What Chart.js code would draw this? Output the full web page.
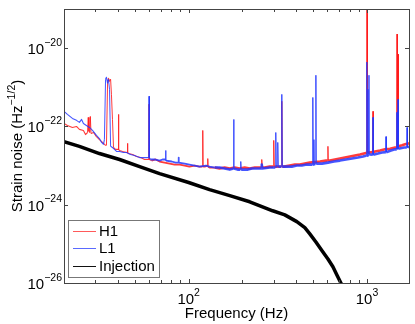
<!DOCTYPE html>
<html>
<head>
<meta charset="utf-8">
<script src="https://cdn.jsdelivr.net/npm/chart.js@4"></script>
<style>
  html, body { margin: 0; padding: 0; background: #fff; }
</style>
</head>
<body>
<canvas id="psd" width="415" height="324"></canvas>
<script>
// Strain noise spectra: [frequency (Hz), strain (1/sqrt(Hz))]
const h1 = [[20,1.19e-22],[20.9,1.06e-22],[22.3,9.4e-23],[23.5,1.0e-22],[24.4,8.4e-23],[25.7,7.9e-23],[26.4,6.2e-23],
  [27.1,7.0e-23],[27.35,1.70e-22],[27.6,7.5e-23],[27.9,7.0e-23],[28.1,1.80e-22],[28.35,6.6e-23],[29.3,7.0e-23],
  [30.4,5.5e-23],[31.6,4.6e-23],[32.9,3.9e-23],[34.2,3.3e-23],[34.6,3.3e-23],[35.1,1.27e-21],[35.5,1.70e-21],
  [36.0,1.43e-21],[36.5,1.60e-21],[36.9,6.6e-22],[37.4,1.51e-22],[37.9,2.9e-23],[38.9,2.6e-23],[40.2,2.6e-23],
  [40.4,2.03e-22],[40.6,2.5e-23],[41.0,2.43e-23],[42.6,2.29e-23],[45.2,2.16e-23],[45.4,3.7e-23],[45.6,2.1e-23],
  [46.0,2.03e-23],[48.5,1.91e-23],[51.0,1.70e-23],[53.8,1.60e-23],[56.6,1.43e-23],[59.8,1.43e-23],[60.0,3.7e-22],
  [60.2,1.43e-23],[62.0,1.34e-23],[65.3,1.43e-23],[68.7,1.27e-23],[73.3,1.19e-23],[78.2,1.12e-23],[83.4,1.06e-23],
  [89.0,1.06e-23],[95.0,1.0e-23],[101,9.4e-24],[108,1.0e-23],[115,9.4e-24],[119.5,9.4e-24],[120,7.9e-23],
  [120.5,9.4e-24],[123,9.4e-24],[127.5,1.0e-23],[128,1.51e-23],[128.5,9.4e-24],[131,8.9e-24],[140,8.9e-24],
  [149,8.4e-24],[159,8.9e-24],[170,8.4e-24],[181,8.9e-24],[193,8.4e-24],[206,8.9e-24],[220,8.4e-24],[235,8.9e-24],
  [255,8.9e-24],[257,1.43e-23],[259,8.9e-24],[267,8.9e-24],[285,9.4e-24],[298,9.4e-24],[300,4.4e-23],[302,9.4e-24],
  [331,9.4e-24],[333,4.4e-22],[335,9.4e-24],[342,9.4e-24],[369,1.0e-23],[394,1.06e-23],[420,1.06e-23],[448,1.12e-23],
  [478,1.19e-23],[545,1.27e-23],[588,1.34e-23],[602,1.34e-23],[604,3.1e-23],[606,1.34e-23],[620,1.34e-23],
  [661,1.43e-23],[705,1.51e-23],[752,1.60e-23],[803,1.70e-23],[856,1.80e-23],[913,1.91e-23],[987,2.1e-23],
  [996,2.16e-23],[998,1.5e-19],[1003,1.5e-19],[1005,2.16e-23],[1026,2.16e-23],[1078,2.2e-23],[1081,2.43e-22],
  [1084,2.2e-23],[1109,2.29e-23],[1183,2.43e-23],[1262,2.6e-23],[1346,2.7e-23],[1437,2.9e-23],[1468,2.9e-23],
  [1474,2.29e-20],[1480,3.0e-23],[1488,3.0e-23],[1494,7.0e-21],[1500,3.1e-23],[1573,3.3e-23],[1635,3.5e-23],
  [1722,3.7e-23]];

const l1 = [[20,2.43e-22],[20.9,2.03e-22],[22.3,1.60e-22],[23.5,1.43e-22],[24.4,1.27e-22],[25.1,1.51e-22],[25.7,1.19e-22],
  [26.7,1.06e-22],[27.8,9.4e-23],[28.9,7.9e-23],[30.4,5.9e-23],[31.6,4.9e-23],[32.5,3.9e-23],[33.3,3.5e-23],
  [33.7,4.6e-23],[34.2,1.60e-21],[34.6,1.80e-21],[35.1,1.27e-21],[35.5,1.60e-21],[36.0,8.9e-22],[36.5,3.1e-23],
  [37.4,2.9e-23],[38.4,2.6e-23],[39.4,2.29e-23],[41.0,2.29e-23],[43.1,2.16e-23],[44.8,2.16e-23],[47.2,1.91e-23],
  [49.7,1.80e-23],[53.1,1.60e-23],[55.9,1.60e-23],[59.8,1.60e-23],[60.0,5.9e-22],[60.2,1.60e-23],[61.2,1.43e-23],
  [64.4,1.43e-23],[68.7,1.34e-23],[71.4,1.43e-23],[74.0,1.43e-23],[74.3,2.43e-23],[74.6,1.34e-23],[80.3,1.27e-23],
  [84.5,1.19e-23],[87.5,1.19e-23],[87.8,1.60e-23],[88.1,1.19e-23],[95.0,1.12e-23],[101,1.06e-23],[108,1.0e-23],
  [115,9.4e-24],[125,1.0e-23],[131,9.4e-24],[140,8.9e-24],[149,8.9e-24],[159,8.4e-24],[170,7.9e-24],[178.5,8.4e-24],
  [179,1.51e-22],[179.5,8.4e-24],[188,7.9e-24],[195,7.9e-24],[196,1.27e-23],[197,7.9e-24],[215,7.9e-24],
  [226,8.4e-24],[241,8.4e-24],[255,8.4e-24],[257,1.06e-23],[259,8.4e-24],[285,8.9e-24],[306,8.9e-24],[308,7.0e-23],
  [310,9.4e-24],[314,9.4e-24],[316,3.9e-23],[318,9.4e-24],[331,9.4e-24],[333,6.6e-22],[335,9.4e-24],[355,9.4e-24],
  [379,9.4e-24],[404,1.0e-23],[431,1.0e-23],[460,1.06e-23],[495,1.06e-23],[497,5.5e-22],[499,1.06e-23],[502,1.1e-23],
  [504,4.6e-23],[506,1.1e-23],[515,1.1e-23],[517,2.03e-21],[519,1.12e-23],[559,1.12e-23],[604,1.19e-23],
  [653,1.27e-23],[705,1.34e-23],[762,1.43e-23],[824,1.51e-23],[890,1.60e-23],[950,1.70e-23],[995,1.80e-23],
  [998,4.4e-21],[1001,1.8e-23],[1010,1.9e-23],[1013,8.9e-22],[1016,1.9e-23],[1023,1.9e-23],[1026,2.03e-21],
  [1029,1.91e-23],[1078,1.9e-23],[1081,1.7e-22],[1084,1.9e-23],[1153,2.03e-23],[1214,2.16e-23],[1276,2.2e-23],
  [1279,5.5e-23],[1282,2.2e-23],[1364,2.43e-23],[1437,2.6e-23],[1468,2.6e-23],[1474,2.29e-22],[1478,2.6e-23],
  [1490,2.6e-23],[1494,4.9e-22],[1498,2.7e-23],[1614,2.9e-23],[1672,2.9e-23],[1678,9.4e-23],[1684,2.9e-23],
  [1722,3.1e-23]];

const injection = [[20,4.1e-23],[24.4,3.1e-23],[31.6,2.03e-23],[41.0,1.43e-23],[53.1,9.4e-24],[68.7,6.2e-24],[100,3.7e-24],
  [131,2.43e-24],[170,1.70e-24],[220,1.19e-24],[251,9.4e-25],[296,7.0e-25],[346,5.5e-25],[404,3.7e-25],[448,2.6e-25],
  [478,1.80e-25],[517,1.12e-25],[566,6.2e-26],[604,4.1e-26],[644,2.6e-26],[678,1.60e-26],[714,1.0e-26],[733,7.4e-27]];

const seriesNames = ["H1", "L1", "Injection"];
const seriesColors = ["rgba(255,25,25,0.85)", "rgba(35,55,255,0.85)", "#000"];

const xMajor = [100, 1000];
const xMinor = [20, 30, 40, 50, 60, 70, 80, 90, 200, 300, 400, 500, 600, 700, 800, 900];
const yTicks = [1e-26, 1e-24, 1e-22, 1e-20];

const FONT = "'Liberation Sans', Arial, sans-serif";

function toPoints(pairs) {
  return pairs.map(p => ({ x: p[0], y: p[1] }));
}

// thin strokes for narrow lines, thicker for the noisy floor at high frequency
function segWidth(c) {
  const dy = Math.abs(c.p1.y - c.p0.y);
  const dx = Math.abs(c.p1.x - c.p0.x);
  if (dy > 6 && dy > dx * 2) return 1;
  if (c.p0.x < 150) return 1.1;
  if (c.p0.x < 210) return 1.8;
  return 2.6;
}

function drawPow(ctx, exp, x, y, align) {
  ctx.font = "15px " + FONT;
  const w1 = ctx.measureText("10").width;
  ctx.font = "10.5px " + FONT;
  const w2 = ctx.measureText(exp).width;
  const left = align === "right" ? x - w1 - w2 : x - (w1 + w2) / 2;
  ctx.textAlign = "left";
  ctx.textBaseline = "alphabetic";
  ctx.font = "15px " + FONT;
  ctx.fillText("10", left, y);
  ctx.font = "10.5px " + FONT;
  ctx.fillText(exp, left + w1, y - 8.5);
}

const frame = {
  id: "frame",
  afterDraw(chart) {
    const { ctx, chartArea: a, scales: { x, y } } = chart;
    ctx.save();
    ctx.strokeStyle = "#444";
    ctx.lineWidth = 1;
    ctx.strokeRect(a.left + 0.5, a.top + 0.5, a.right - a.left, a.bottom - a.top);

    // inward ticks on all four sides
    ctx.beginPath();
    xMajor.concat(xMinor).forEach(t => {
      const len = xMajor.includes(t) ? 4 : 3;
      const px = Math.round(x.getPixelForValue(t)) + 0.5;
      ctx.moveTo(px, a.bottom); ctx.lineTo(px, a.bottom - len);
      ctx.moveTo(px, a.top); ctx.lineTo(px, a.top + len);
    });
    yTicks.forEach(t => {
      const py = Math.round(y.getPixelForValue(t)) + 0.5;
      ctx.moveTo(a.left, py); ctx.lineTo(a.left + 4, py);
      ctx.moveTo(a.right, py); ctx.lineTo(a.right - 4, py);
    });
    ctx.stroke();

    ctx.fillStyle = "#000";
    xMajor.forEach(t => {
      drawPow(ctx, String(Math.round(Math.log10(t))), x.getPixelForValue(t), a.bottom + 21);
    });
    yTicks.forEach(t => {
      drawPow(ctx, "\u2212" + Math.round(-Math.log10(t)), a.left - 2, y.getPixelForValue(t) + 6, "right");
    });

    // x title
    ctx.font = "15px " + FONT;
    ctx.textAlign = "center";
    ctx.fillText("Frequency (Hz)", (a.left + a.right) / 2, a.bottom + 35);

    // y title with superscript
    ctx.save();
    ctx.translate(22, (a.top + a.bottom) / 2);
    ctx.rotate(-Math.PI / 2);
    ctx.textAlign = "left";
    ctx.font = "15px " + FONT;
    const p1 = "Strain noise (Hz", p3 = ")";
    const w1 = ctx.measureText(p1).width, w3 = ctx.measureText(p3).width;
    ctx.font = "10.5px " + FONT;
    const sup = "\u22121/2";
    const w2 = ctx.measureText(sup).width;
    const sx = -(w1 + w2 + w3) / 2;
    ctx.font = "15px " + FONT;
    ctx.fillText(p1, sx, 0);
    ctx.font = "10.5px " + FONT;
    ctx.fillText(sup, sx + w1, -7);
    ctx.font = "15px " + FONT;
    ctx.fillText(p3, sx + w1 + w2, 0);
    ctx.restore();

    // legend box, bottom left inside the axes
    const lx = a.left + 4, ly = a.bottom - 63;
    ctx.fillStyle = "#fff";
    ctx.fillRect(lx + 0.5, ly + 0.5, 91, 57);
    ctx.strokeStyle = "#777";
    ctx.strokeRect(lx + 0.5, ly + 0.5, 91, 57);
    const legColors = ["#ff5a5a", "#5a6aff", "#111"];
    seriesNames.forEach((n, i) => {
      const ry = ly + 10.5 + i * 17.5;
      ctx.strokeStyle = legColors[i];
      ctx.lineWidth = 1;
      ctx.beginPath();
      ctx.moveTo(lx + 5, Math.round(ry) + 0.5);
      ctx.lineTo(lx + 28, Math.round(ry) + 0.5);
      ctx.stroke();
      ctx.fillStyle = "#000";
      ctx.font = "15px " + FONT;
      ctx.textAlign = "left";
      ctx.textBaseline = "middle";
      ctx.fillText(n, lx + 31, ry + 1);
    });
    ctx.restore();
  }
};

new Chart(document.getElementById("psd"), {
  type: "line",
  data: {
    datasets: [
      { label: seriesNames[0], data: toPoints(h1), borderColor: seriesColors[0], order: 2,
        segment: { borderWidth: segWidth } },
      { label: seriesNames[1], data: toPoints(l1), borderColor: seriesColors[1], order: 1,
        segment: { borderWidth: segWidth } },
      { label: seriesNames[2], data: toPoints(injection), borderColor: seriesColors[2], order: 3,
        borderWidth: 3.5 }
    ]
  },
  options: {
    responsive: false,
    animation: false,
    devicePixelRatio: 1,
    layout: { padding: { left: 64, top: 9, right: 6, bottom: 41 } },
    elements: { point: { radius: 0 }, line: { tension: 0, borderWidth: 1, borderJoinStyle: "round" } },
    plugins: { legend: { display: false }, tooltip: { enabled: false } },
    scales: {
      x: { type: "logarithmic", min: 20, max: 1720, display: false },
      y: { type: "logarithmic", min: 1e-26, max: 1e-19, display: false }
    }
  },
  plugins: [frame]
});
</script>
</body>
</html>
